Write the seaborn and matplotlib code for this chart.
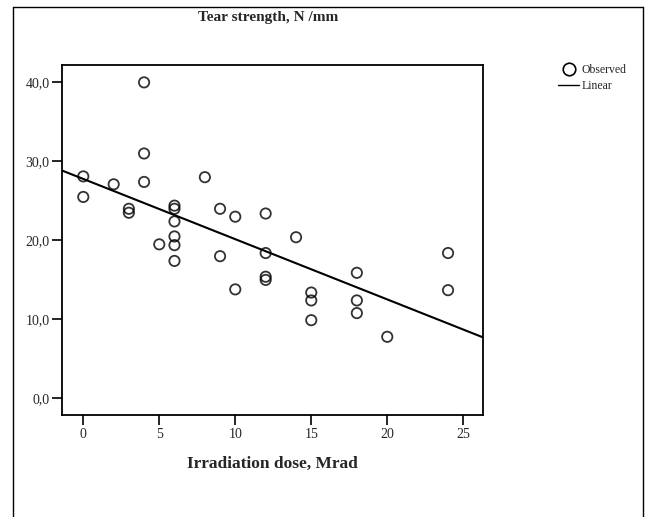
import numpy as np
import matplotlib
matplotlib.use("Agg")
import matplotlib.pyplot as plt
from matplotlib.lines import Line2D
import seaborn as sns

# irradiation dose (Mrad) and observed tear strength (N/mm)
dose = [0, 0, 2, 3, 3, 4, 4, 4, 5,
        6, 6, 6, 6, 6, 6, 8, 9, 9, 10, 10,
        12, 12, 12, 12, 14, 15, 15, 15,
        18, 18, 18, 20, 24, 24]
strength = [28.1, 25.5, 27.1, 24.0, 23.5, 40.0, 31.0, 27.4, 19.5,
            24.4, 24.0, 22.4, 20.5, 19.4, 17.4, 28.0, 24.0, 18.0, 23.0, 13.8,
            23.4, 18.4, 15.4, 15.0, 20.4, 13.4, 12.4, 9.9,
            15.9, 12.4, 10.8, 7.8, 18.4, 13.7]

x_ticks = [0, 5, 10, 15, 20, 25]
y_ticks = [0, 10, 20, 30, 40]
y_tick_labels = ["0,0", "10,0", "20,0", "30,0", "40,0"]

sns.set_style("white")
plt.rcParams['font.family'] = ['Liberation Serif', 'DejaVu Serif']

fig = plt.figure(figsize=(6.46, 5.17), dpi=100)
ax = fig.add_axes([62/646, 1-415/517, (483-62)/646, (415-65)/517])
ax.set_xlim(-1.4, 26.3)
ax.set_ylim(-2.1, 42.2)

sns.regplot(x=dose, y=strength, ax=ax, ci=None, truncate=False,
            scatter_kws=dict(facecolors='none', edgecolors='black', s=55, linewidths=1.3),
            line_kws=dict(color='black', lw=1.5))
ax.set_xlim(-1.4, 26.3)
ax.set_ylim(-2.1, 42.2)

ax.set_xticks(x_ticks)
ax.set_yticks(y_ticks)
ax.set_yticklabels(y_tick_labels)
ax.tick_params(axis='both', direction='out', length=7, width=1.2, color='black',
               labelsize=10, pad=2, bottom=True, left=True)
for s in ax.spines.values():
    s.set_color('black')
    s.set_linewidth(1.3)

ax.set_xlabel("Irradiation dose, Mrad", fontsize=12.5, fontweight='bold', labelpad=11)
ax.set_ylabel("")
fig.text(268/646, 1-18/517, "Tear strength, N /mm", ha='center', va='center',
         fontsize=11, fontweight='bold')

handles = [Line2D([], [], marker='o', ls='none', mfc='none', mec='black', ms=9, mew=1.2),
           Line2D([], [], color='black', lw=1)]
fig.legend(handles, ["Observed", "Linear"], loc='upper left',
           bbox_to_anchor=(552/646, 1-58/517), frameon=False, fontsize=8.5,
           handlelength=1.8, handletextpad=0.2, labelspacing=0.35, borderpad=0)

# outer frame around the figure
fig.add_artist(Line2D([13/646, 13/646], [0, 1-6.5/517], color='black', lw=1))
fig.add_artist(Line2D([13/646, 643/646], [1-6.5/517, 1-6.5/517], color='black', lw=1))
fig.add_artist(Line2D([643/646, 643/646], [0, 1-6.5/517], color='black', lw=1))

fig.savefig("out.png", dpi=100)
